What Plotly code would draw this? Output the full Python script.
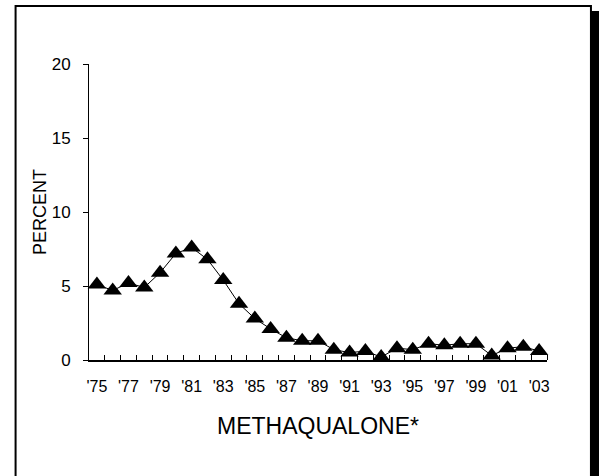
import plotly.graph_objects as go

years = ["'75", "'76", "'77", "'78", "'79", "'80", "'81", "'82", "'83", "'84",
         "'85", "'86", "'87", "'88", "'89", "'90", "'91", "'92", "'93", "'94",
         "'95", "'96", "'97", "'98", "'99", "'00", "'01", "'02", "'03"]
values = [5.1, 4.7, 5.2, 4.9, 5.9, 7.2, 7.6, 6.8, 5.4, 3.8,
          2.8, 2.1, 1.5, 1.3, 1.3, 0.7, 0.5, 0.6, 0.2, 0.8,
          0.7, 1.1, 1.0, 1.1, 1.1, 0.3, 0.8, 0.9, 0.6]
tick_labels = [y if i % 2 == 0 else "" for i, y in enumerate(years)]

W, H = 599, 476
L, R, T, B = 88.5, 547, 64, 360  # plot area in pixels

def px(x):
    return (x - L) / (R - L)

def py(y):
    return (B - y) / (B - T)

fig = go.Figure()
fig.add_trace(go.Scatter(
    x=list(range(len(years))), y=values, mode="lines+markers",
    line=dict(color="black", width=1),
    marker=dict(symbol="triangle-up", size=16, color="black"),
    cliponaxis=False, showlegend=False,
))

font = "Arial, Liberation Sans, sans-serif"
fig.update_layout(
    width=W, height=H,
    margin=dict(l=L, r=W - R, t=T, b=H - B, pad=0),
    paper_bgcolor="white", plot_bgcolor="white",
    font=dict(family=font, color="black", size=16),
    xaxis=dict(
        range=[-0.5, len(years) - 0.5],
        tickmode="array", tickvals=list(range(len(years))), ticktext=tick_labels,
        showgrid=False, zeroline=False, showline=True, linecolor="black", linewidth=1.5,
        ticks="", tickfont=dict(size=16), ticklabelstandoff=11,
        title=dict(text="METHAQUALONE*", font=dict(size=23), standoff=24),
        minor=dict(tickmode="array", tickvals=[i + 0.5 for i in range(len(years))],
                   ticks="inside", ticklen=5, tickcolor="black", tickwidth=1),
    ),
    yaxis=dict(
        range=[0, 20], tickvals=[0, 5, 10, 15, 20],
        showgrid=False, zeroline=False, showline=True, linecolor="black", linewidth=1,
        ticks="outside", ticklen=5, tickcolor="black", tickwidth=1,
        tickfont=dict(size=17), ticklabelstandoff=9,
        title=dict(text="PERCENT", font=dict(size=18), standoff=0),
    ),
    shapes=[
        dict(type="rect", xref="paper", yref="paper",
             x0=px(15), x1=px(591), y0=py(480), y1=py(6),
             fillcolor="rgba(0,0,0,0)", line=dict(color="black", width=2), layer="above"),
    ],
)

post = """
var st = document.createElement('style');
st.textContent = 'html,body{margin:0;padding:0;overflow:hidden;background:#ffffff;}';
document.head.appendChild(st);
var sh = document.createElement('div');
sh.style.cssText = 'position:fixed;left:590px;top:11px;width:9px;height:470px;' +
                   'background:#000000;z-index:10;pointer-events:none;';
document.body.appendChild(sh);
"""

fig.write_html("out.html", config={"displayModeBar": False}, post_script=post)
